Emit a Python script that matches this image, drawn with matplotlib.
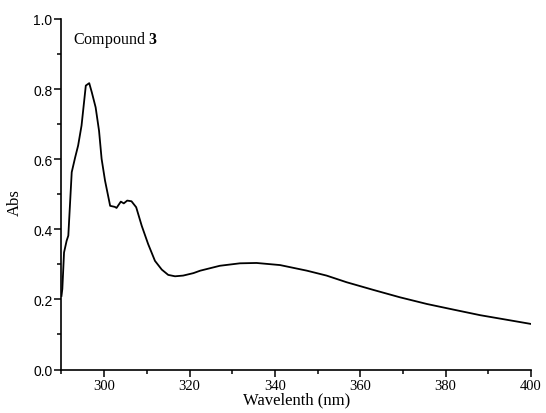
import matplotlib
matplotlib.use("Agg")
import matplotlib.pyplot as plt
from matplotlib.ticker import MultipleLocator

# UV-Vis spectrum of compound 3
wavelength = [290.0, 290.2, 290.6, 291.2, 291.6, 292.4, 293.2, 293.9, 294.7, 295.7,
              296.5, 297.1, 298.0, 298.8, 299.4, 300.2, 301.4, 302.5, 302.9, 303.9,
              304.6, 305.4, 306.4, 307.5, 308.8, 310.3, 311.9, 313.5, 315.0, 316.6,
              318.5, 320.9, 322.5, 327.1, 331.8, 335.7, 341.2, 347.5, 352.1, 356.8,
              363.1, 369.3, 375.6, 381.8, 388.1, 394.3, 400.0]
absorbance = [0.21, 0.23, 0.334, 0.367, 0.382, 0.563, 0.605, 0.639, 0.696, 0.81,
              0.817, 0.791, 0.748, 0.681, 0.601, 0.539, 0.467, 0.464, 0.461, 0.479,
              0.474, 0.482, 0.48, 0.463, 0.41, 0.358, 0.31, 0.285, 0.27, 0.266,
              0.268, 0.275, 0.282, 0.296, 0.303, 0.304, 0.298, 0.282, 0.268, 0.249,
              0.227, 0.206, 0.187, 0.171, 0.155, 0.142, 0.13]

serif = ["Liberation Serif", "DejaVu Serif"]
sans = ["Liberation Sans", "DejaVu Sans"]

plt.rcParams["mathtext.fontset"] = "custom"
plt.rcParams["mathtext.rm"] = "Liberation Serif"
plt.rcParams["mathtext.bf"] = "Liberation Serif:bold"

fig = plt.figure(figsize=(5.46, 4.14), dpi=100)
ax = fig.add_axes([0.1126, 0.105, 0.86, 0.8467])

ax.plot(wavelength, absorbance, color="black", lw=1.3)

ax.set_xlim(290, 400)
ax.set_ylim(0, 1.0)
ax.xaxis.set_minor_locator(MultipleLocator(10))
ax.yaxis.set_minor_locator(MultipleLocator(0.1))
ax.set_xticks([300, 320, 340, 360, 380, 400])
ax.set_yticks([0.0, 0.2, 0.4, 0.6, 0.8, 1.0])
ax.set_yticklabels(["0.0", "0.2", "0.4", "0.6", "0.8", "1.0"], family=sans, fontsize=10)
ax.set_xticklabels(["300", "320", "340", "360", "380", "400"], family=serif, fontsize=10.5)

for side in ["top", "right"]:
    ax.spines[side].set_visible(False)
for side in ["left", "bottom"]:
    ax.spines[side].set_linewidth(1.2)
ax.tick_params(which="major", direction="out", length=5, width=1.1, pad=1.5)
ax.tick_params(which="minor", direction="out", length=3, width=1.1)

ax.set_xlabel("Wavelenth (nm)", family=serif, fontsize=12, labelpad=0)
ax.set_ylabel("Abs", family=serif, fontsize=12)
ax.yaxis.set_label_coords(-0.082, 0.478)

ax.text(292.7, 0.943, "Compound $\\mathbf{3}$", family=serif, fontsize=11.5, va="center", ha="left")

fig.savefig("out.png", dpi=100)
